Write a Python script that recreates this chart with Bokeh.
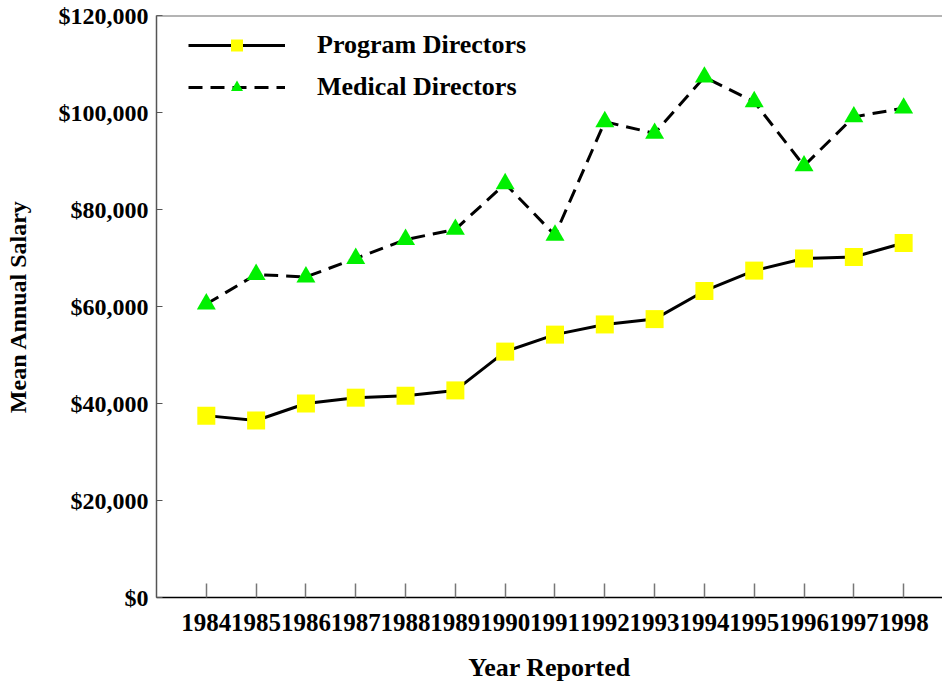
from bokeh.plotting import figure
from bokeh.models import (FixedTicker, NumeralTickFormatter, Range1d, Legend,
                          LegendItem, Span)
from bokeh.embed import file_html
from bokeh.resources import INLINE

# ---- data ----
years = [1984, 1985, 1986, 1987, 1988, 1989, 1990, 1991, 1992, 1993,
         1994, 1995, 1996, 1997, 1998]
program_directors = [37500, 36500, 40000, 41200, 41600, 42700, 50700, 54200,
                     56300, 57400, 63200, 67400, 69900, 70200, 73100]
medical_directors = [60500, 66600, 66100, 69900, 73800, 75900, 85300, 74700,
                     98100, 95700, 107300, 102200, 89000, 99100, 100900]
y_ticks = [0, 20000, 40000, 60000, 80000, 100000, 120000]
series_names = ["Program Directors", "Medical Directors"]
x_title = "Year Reported"
y_title = "Mean Annual Salary"

FONT = "Liberation Serif"

p = figure(width=942, height=684, output_backend="svg", toolbar_location=None,
           x_range=Range1d(1983.0, 1998.78), y_range=Range1d(0, 120000),
           min_border_left=156, min_border_top=15, min_border_right=0,
           min_border_bottom=87)
p.outline_line_color = None
p.xgrid.visible = False
p.ygrid.visible = False
p.background_fill_color = "white"
p.border_fill_color = "white"

# top frame line
p.add_layout(Span(location=y_ticks[-1], dimension="width",
                  line_color="#6a6a6a", line_width=2))

l1 = p.line(years, program_directors, line_color="black", line_width=3)
s1 = p.scatter(years, program_directors, marker="square", size=18,
               fill_color="#FFFF00", line_color=None)
l2 = p.line(years, medical_directors, line_color="black", line_width=3,
            line_dash="14 8")
s2 = p.scatter(years, medical_directors, marker="triangle", size=19,
               fill_color="#00F000", line_color=None)

legend = Legend(items=[LegendItem(label=series_names[0], renderers=[l1, s1]),
                       LegendItem(label=series_names[1], renderers=[l2, s2])],
                location=(32, 582 - 15 - 72))
legend.border_line_color = None
legend.background_fill_alpha = 0
legend.padding = 0
legend.margin = 0
legend.spacing = 12
legend.glyph_width = 97
legend.glyph_height = 30
legend.label_height = 30
legend.label_standoff = 32
legend.label_text_font = FONT
legend.label_text_font_style = "bold"
legend.label_text_font_size = "26px"
legend.label_text_color = "black"
p.add_layout(legend)

# x axis
xa = p.xaxis[0]
xa.ticker = FixedTicker(ticks=years)
xa.minor_tick_line_color = None
xa.major_tick_in = 14
xa.major_tick_out = 0
xa.major_tick_line_color = "#777777"
xa.major_tick_line_width = 1.5
xa.axis_line_color = "black"
xa.axis_line_width = 1.5
xa.major_label_text_font = FONT
xa.major_label_text_font_style = "bold"
xa.major_label_text_font_size = "25px"
xa.major_label_text_color = "black"
xa.major_label_standoff = 16
xa.axis_label = x_title
xa.axis_label_text_font = FONT
xa.axis_label_text_font_style = "bold"
xa.axis_label_text_font_size = "26px"
xa.axis_label_text_color = "black"
xa.axis_label_standoff = 19

# y axis
ya = p.yaxis[0]
ya.ticker = FixedTicker(ticks=y_ticks)
ya.formatter = NumeralTickFormatter(format="$0,0")
ya.minor_tick_line_color = None
ya.major_tick_in = 6
ya.major_tick_out = 0
ya.major_tick_line_color = "#555555"
ya.axis_line_color = "#555555"
ya.axis_line_width = 1.5
ya.major_label_text_font = FONT
ya.major_label_text_font_style = "bold"
ya.major_label_text_font_size = "24px"
ya.major_label_text_color = "black"
ya.major_label_standoff = 8
ya.axis_label = y_title
ya.axis_label_text_font = FONT
ya.axis_label_text_font_style = "bold"
ya.axis_label_text_font_size = "24px"
ya.axis_label_text_color = "black"
ya.axis_label_standoff = 25

open("out.html", "w").write(file_html(p, INLINE))
